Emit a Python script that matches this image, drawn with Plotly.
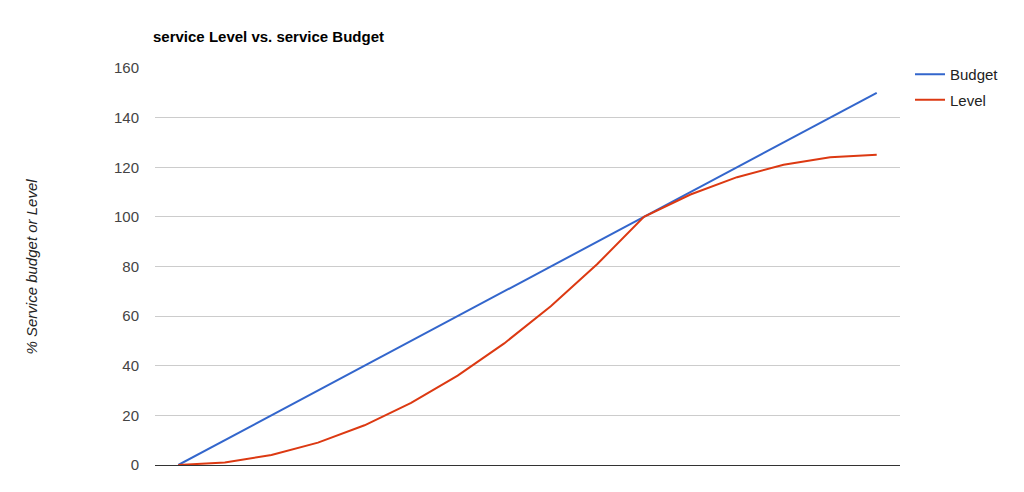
import plotly.graph_objects as go

steps = list(range(16))
budget = [0, 10, 20, 30, 40, 50, 60, 70, 80, 90, 100, 110, 120, 130, 140, 150]
level = [0, 1, 4, 9, 16, 25, 36, 49, 64, 81, 100, 109, 116, 121, 124, 125]
y_ticks = [0, 20, 40, 60, 80, 100, 120, 140, 160]

W, H = 1024, 492
fig = go.Figure()
fig.add_trace(go.Scatter(x=steps, y=budget, mode="lines", name="Budget", legendgroup="b",
                         line=dict(color="#3366cc", width=2)))
fig.add_trace(go.Scatter(x=steps, y=level, mode="lines", name="Level", legendgroup="l",
                         line=dict(color="#dc3912", width=2)))

fig.update_layout(
    width=W, height=H,
    margin=dict(l=155, r=124, t=68, b=27, autoexpand=False),
    paper_bgcolor="white", plot_bgcolor="white",
    font=dict(family="Arial, Liberation Sans, sans-serif", size=15, color="#222"),
    title=dict(text="<b>service Level vs. service Budget</b>", x=153 / W, xref="container",
               xanchor="left", y=1 - 37 / H, yref="container", yanchor="middle",
               font=dict(size=15, color="#000")),
    legend=dict(xref="container", yref="container", x=910 / W, y=1 - 58 / H,
                xanchor="left", yanchor="top", font=dict(size=15, color="#222"),
                bgcolor="rgba(0,0,0,0)", tracegroupgap=3, itemwidth=30),
    showlegend=True,
    xaxis=dict(range=[-0.5, 15.5], showgrid=False, showticklabels=False, zeroline=False,
               showline=False, ticks=""),
    yaxis=dict(range=[0, 160], tickvals=y_ticks, showgrid=True, gridcolor="#cccccc",
               gridwidth=1, zeroline=True, zerolinecolor="#333333", zerolinewidth=1,
               showline=False, ticks="", ticklabelstandoff=15,
               tickfont=dict(size=15, color="#444")),
    annotations=[dict(text="<i>% Service budget or Level</i>", textangle=-90,
                      xref="paper", yref="paper", x=-(155 - 31) / (W - 155 - 124), y=0.5,
                      xanchor="center", yanchor="middle", showarrow=False,
                      font=dict(size=15, color="#222"))],
)

fig.write_html("out.html")
